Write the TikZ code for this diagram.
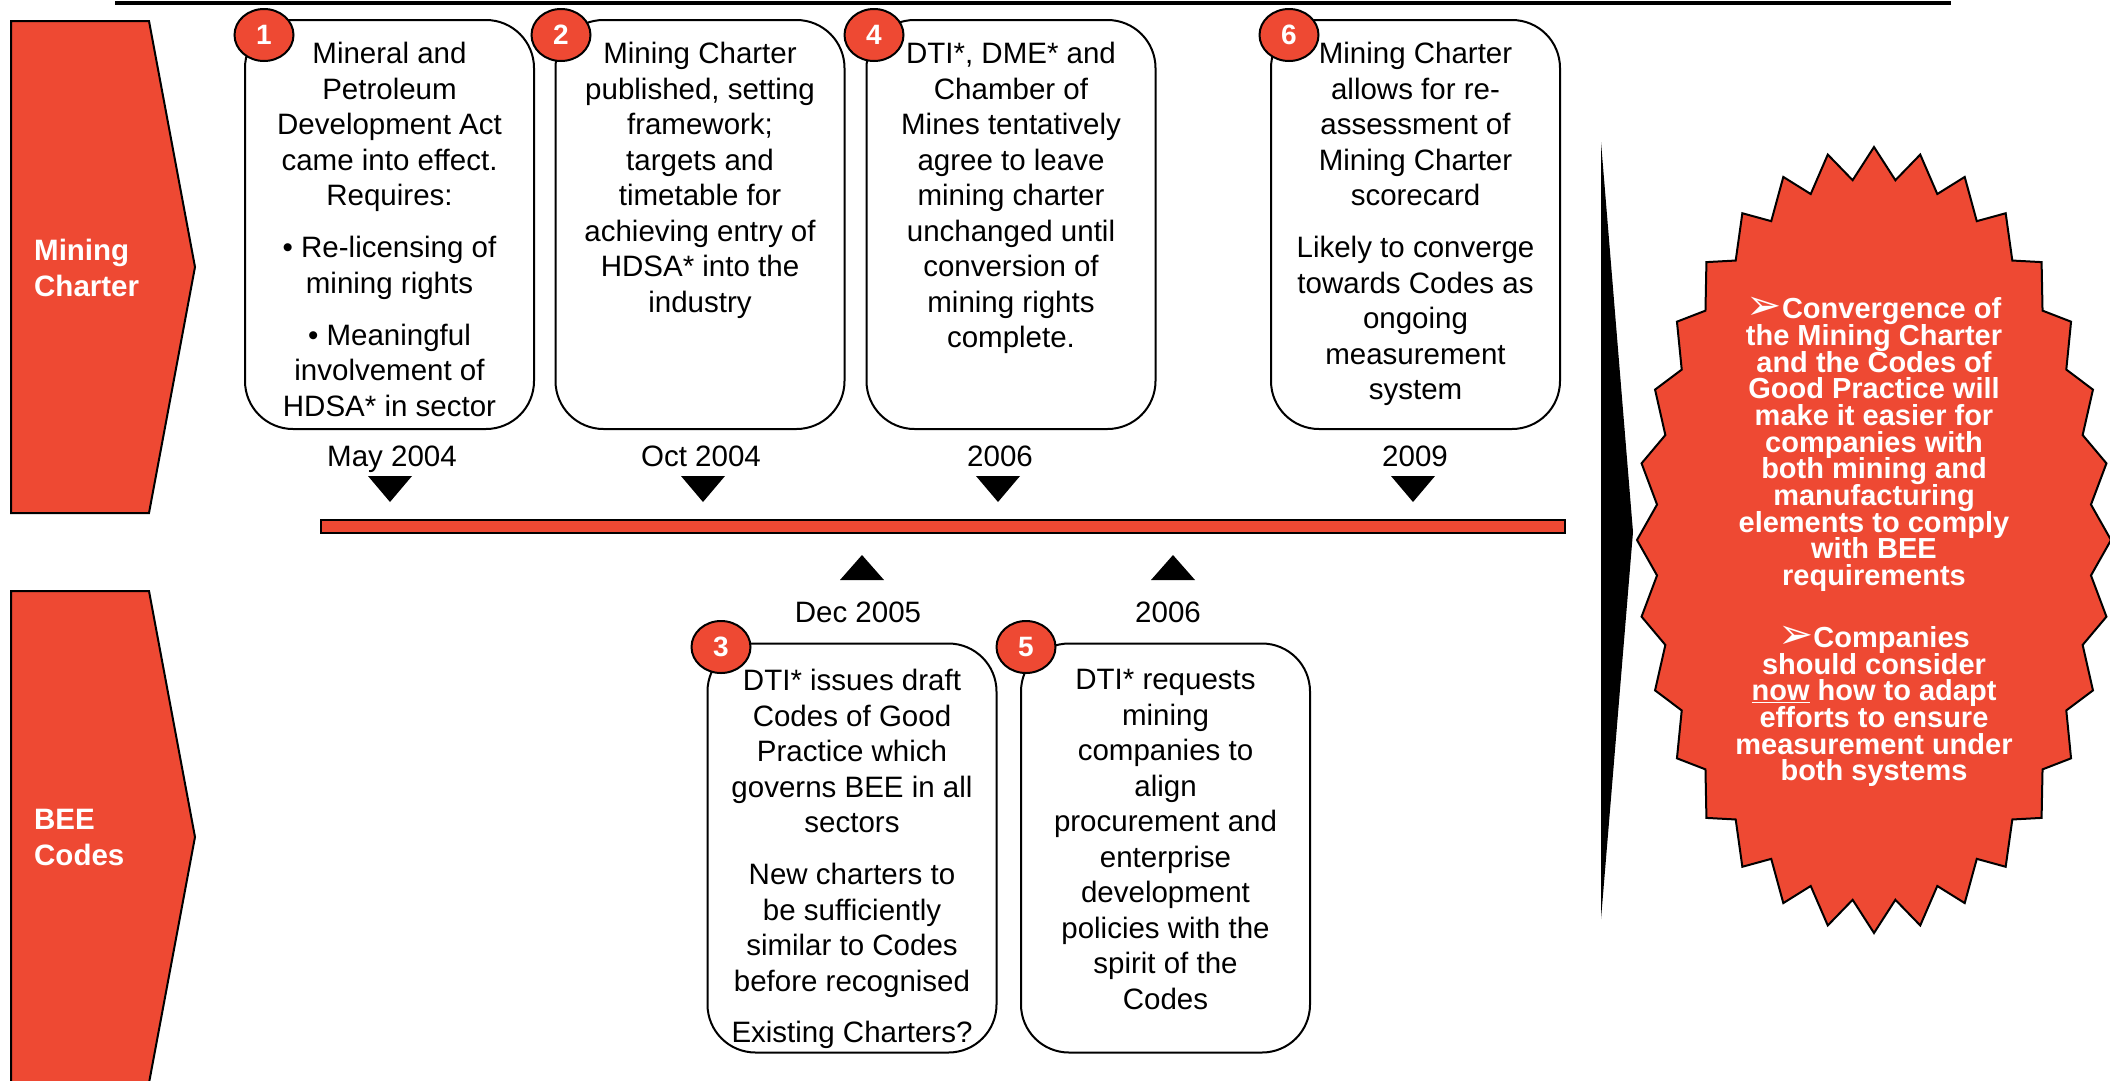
\documentclass[tikz,border=0pt]{standalone}
\usepackage{fontspec}
\usepackage{graphicx}
\setmainfont{Liberation Sans}
\newfontfamily\dejavu{DejaVu Sans}
\usetikzlibrary{shapes.geometric}
\definecolor{rd}{RGB}{238,73,51}
\newcommand{\tightlines}{\lineskiplimit=-40pt\relax}
\newcommand{\arrowbul}{\raisebox{-1pt}{\scalebox{1.45}{\dejavu\mdseries ➢}}}
\begin{document}
\begin{tikzpicture}[x=1pt,y=-1pt,
  evbox/.style={draw=black, line width=2pt, rounded corners=48pt, fill=white, minimum width=289pt, minimum height=409pt, inner sep=0pt},
  numbadge/.style={ellipse, draw=black, line width=2pt, fill=rd, minimum width=59pt, minimum height=52pt, inner sep=0pt, text=white, font=\fontsize{28}{30}\selectfont\bfseries},
  evtext/.style={anchor=north, align=center, inner sep=0pt, font=\fontsize{29.5}{35.5}\selectfont},
  datelbl/.style={anchor=base, inner sep=0pt, font=\fontsize{29.5}{35.5}\selectfont},
  rowlbl/.style={anchor=west, align=left, inner sep=0pt, text=white, font=\fontsize{29.5}{36}\selectfont\bfseries},
  chev/.style={draw=black, line width=2pt, fill=rd},
  tri/.style={fill=black},
  bursttext/.style={anchor=north, align=center, inner sep=0pt, text=white, font={\fontsize{29}{26.7}\selectfont\bfseries\tightlines}}
]
\useasboundingbox (0,0) rectangle (2110,1080);
% top rule
\draw[line width=3.5pt] (115,3) -- (1951,3);
% row chevrons
\draw[chev] (11,21) -- (149,21) -- (195,267) -- (149,513) -- (11,513) -- cycle;
\node[rowlbl] (mclbl) at (34,268) {Mining\\Charter};
\draw[chev] (11,591) -- (149,591) -- (195,837) -- (149,1083) -- (11,1083) -- cycle;
\node[rowlbl] (beelbl) at (34,837.5) {BEE\\Codes};
% timeline bar
\node[draw=black, line width=2pt, fill=rd, minimum width=1244pt, minimum height=13pt, inner sep=0pt] (bar) at (943,526.5) {};
% top boxes
\node[evbox] (b1) at (389.5,224.5) {};
\node[evbox] (b2) at (700,224.5) {};
\node[evbox] (b4) at (1011,224.5) {};
\node[evbox] (b6) at (1415.5,224.5) {};
\node[evtext] (t1) at (389.5,42) {Mineral and\\Petroleum\\Development Act\\came into effect.\\Requires:\\[16.5pt]\textbullet{} Re-licensing of\\mining rights\\[16.5pt]\textbullet{} Meaningful\\involvement of\\HDSA* in sector};
\node[evtext] (t2) at (700,42) {Mining Charter\\published, setting\\framework;\\targets and\\timetable for\\achieving entry of\\HDSA* into the\\industry};
\node[evtext] (t4) at (1011,42) {DTI*, DME* and\\Chamber of\\Mines tentatively\\agree to leave\\mining charter\\unchanged until\\conversion of\\mining rights\\complete.};
\node[evtext] (t6) at (1415.5,42) {Mining Charter\\allows for re-\\assessment of\\Mining Charter\\scorecard\\[16.5pt]Likely to converge\\towards Codes as\\ongoing\\measurement\\system};
\node[numbadge] (n1) at (264,35) {1};
\node[numbadge] (n2) at (561,35) {2};
\node[numbadge] (n4) at (874,35) {4};
\node[numbadge] (n6) at (1289,35) {6};
% top dates and markers
\node[datelbl] (d1) at (392,466) {May 2004};
\node[datelbl] (d2) at (701,466) {Oct 2004};
\node[datelbl] (d4) at (1000,466) {2006};
\node[datelbl] (d6) at (1415,466) {2009};
\fill[tri] (368,476) -- (412,476) -- (390,502) -- cycle;
\fill[tri] (681,476) -- (725,476) -- (703,502) -- cycle;
\fill[tri] (976,476) -- (1020,476) -- (998,502) -- cycle;
\fill[tri] (1391,476) -- (1435,476) -- (1413,502) -- cycle;
% bottom markers and dates
\fill[tri] (840,580) -- (884,580) -- (862,555) -- cycle;
\fill[tri] (1151,580) -- (1195,580) -- (1173,555) -- cycle;
\node[datelbl] (d3) at (858,622) {Dec 2005};
\node[datelbl] (d5) at (1168,622) {2006};
% bottom boxes
\node[evbox] (b3) at (852,848) {};
\node[evbox] (b5) at (1165.5,848) {};
\node[evtext] (t3) at (852,669) {DTI* issues draft\\Codes of Good\\Practice which\\governs BEE in all\\sectors\\[16.5pt]New charters to\\be sufficiently\\similar to Codes\\before recognised\\[15.5pt]Existing Charters?};
\node[evtext] (t5) at (1165.5,669) {DTI* requests\\mining\\companies to\\align\\procurement and\\enterprise\\development\\policies with the\\spirit of the\\Codes};
\node[numbadge] (n3) at (721,647) {3};
\node[numbadge] (n5) at (1026,647) {5};
% divider wedge
\fill[black] (1601,142) -- (1633,532) -- (1601,919) -- cycle;
% starburst
\draw[chev] (2111,540) \foreach \i in {1,...,63} { -- ({1874+237*(1-0.08*mod(\i,2))*cos(\i*5.625)}, {540+393*(1-0.08*mod(\i,2))*sin(\i*5.625)}) } -- cycle;
\node[bursttext] (burst) at (1874,297) {\arrowbul Convergence of\\the Mining Charter\\and the Codes of\\Good Practice will\\make it easier for\\companies with\\both mining and\\manufacturing\\elements to comply\\with BEE\\requirements\\[35pt]\arrowbul Companies\\should consider\\\underline{now} how to adapt\\efforts to ensure\\measurement under\\both systems};
\end{tikzpicture}
\end{document}
